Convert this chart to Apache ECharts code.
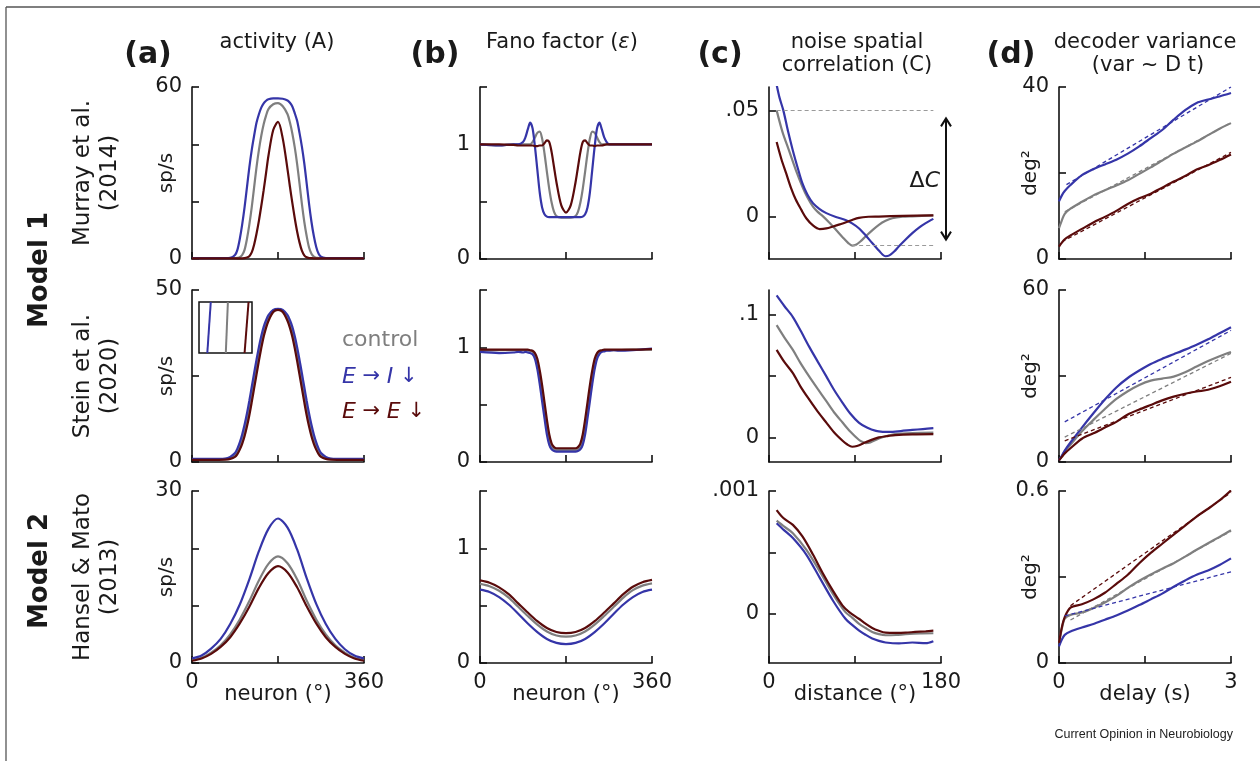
<!DOCTYPE html>
<html>
<head>
<meta charset="utf-8">
<script src="https://cdn.jsdelivr.net/npm/echarts@6.0.0/dist/echarts.min.js"></script>
<style>
  html, body { margin: 0; padding: 0; background: #ffffff; }
  #chart { width: 1260px; height: 761px; }
</style>
</head>
<body>
<div id="chart"></div>
<script>
// ---------------- data ----------------
// preferred-angle axis (degrees) shared by the ring-model panels
const NEURON = [0,40,70,80,90,95,100,105,110,115,120,125,130,135,140,145,150,155,160,170,180,
                190,200,205,210,215,220,225,230,235,240,245,250,255,260,265,270,280,290,320,360];
const NEURON_COARSE = [0,20,40,60,80,100,120,140,160,180,200,220,240,260,280,300,320,340,360];
const DELAY = [0,0.05,0.1,0.2,0.4,0.6,0.8,1.0,1.2,1.4,1.6,1.8,2.0,2.2,2.4,2.6,2.8,3.0];

// (a) activity, sp/s
const A1_CTRL = [0.3,0.3,0.3,0.3,0.3,0.4,0.6,1.4,3.2,7,12,18,25,32,38,43,47,50,52.3,54,
                 54.4,53.3,50.5,47.6,43.8,39,33.2,26.4,19.2,13,8,4,1.8,0.8,0.45,0.35,0.3,0.3,0.3,0.3,0.3];
const A1_EI   = [0.3,0.3,0.3,0.4,1.4,3.2,7,12,18,25,32,38,43,47.5,50.5,52.8,54.3,55.2,55.7,56.0,
                 56.0,55.9,55.3,54.5,53.2,50.9,48.2,44,39.2,33.4,26.4,19.2,13,8,4.2,1.8,0.8,0.35,0.3,0.3,0.3];
const A1_EE   = [0.25,0.25,0.25,0.25,0.25,0.25,0.25,0.25,0.3,0.5,1.0,2.3,5,8.8,13.3,18.5,24,30,36,45,
                 47.8,42,31.2,25.2,19.6,14.3,9.6,5.8,2.9,1.3,0.6,0.35,0.3,0.25,0.25,0.25,0.25,0.25,0.25,0.25,0.25];

const A2_CTRL = [0.8,0.8,0.9,1.2,2,3,4.5,6.5,9,12,15.5,19.5,23.5,27.5,31.5,35,38,40.2,41.9,43.8,
                 44.3,43.8,41.9,40.2,38,35,31.5,27.5,23.5,19.5,15.5,12,9,6.5,4.5,3,2,1.2,0.9,0.8,0.8];
const A2_EI   = [0.9,0.9,1.0,1.5,2.6,3.9,5.7,8.0,10.8,14.1,17.8,21.8,25.8,29.7,33.4,36.6,39.3,41.2,42.7,44.2,
                 44.5,44.2,42.7,41.2,39.3,36.6,33.4,29.7,25.8,21.8,17.8,14.1,10.8,8.0,5.7,3.9,2.6,1.5,1.0,0.9,0.9];
const A2_EE   = [0.6,0.6,0.7,0.9,1.5,2.3,3.6,5.3,7.5,10.3,13.6,17.4,21.4,25.4,29.4,33.1,36.4,39.0,41.0,43.6,
                 44.2,43.6,41.0,39.0,36.4,33.1,29.4,25.4,21.4,17.4,13.6,10.3,7.5,5.3,3.6,2.3,1.5,0.9,0.7,0.6,0.6];

const A3_CTRL = [0.5,0.9,1.8,3.1,5.0,7.6,10.8,14.4,17.3,18.6,17.4,14.6,10.9,7.6,5.0,3.1,1.8,0.9,0.5];
const A3_EI   = [0.8,1.3,2.5,4.2,6.8,10.2,14.6,19.5,23.4,25.2,23.6,19.8,14.8,10.3,6.8,4.2,2.4,1.3,0.8];
const A3_EE   = [0.4,0.8,1.6,2.8,4.5,6.9,9.8,13.1,15.7,16.9,15.8,13.2,9.9,6.9,4.5,2.8,1.6,0.8,0.4];

// inset of panel (a), middle row: the three rising flanks magnified
const INSET_CTRL = [[0.506,0],[0.545,1]];
const INSET_EI   = [[0.157,0],[0.222,1]];
const INSET_EE   = [[0.860,0],[0.935,1]];

// (b) Fano factor
const B1_CTRL = [1.0,0.99,1.0,1.0,1.0,1.0,1.0,1.0,1.02,1.06,1.10,1.11,1.05,0.92,0.76,0.61,0.49,0.41,0.375,0.36,
                 0.36,0.36,0.375,0.41,0.49,0.61,0.76,0.92,1.05,1.11,1.10,1.06,1.02,1.0,1.0,1.0,1.0,1.0,1.0,1.0,1.0];
const B1_EI   = [1.0,0.99,1.0,1.0,1.02,1.06,1.13,1.19,1.14,0.98,0.78,0.58,0.45,0.39,0.37,0.365,0.365,0.365,0.365,0.365,
                 0.365,0.365,0.365,0.365,0.365,0.37,0.39,0.45,0.58,0.78,0.98,1.14,1.19,1.13,1.06,1.02,1.0,1.0,1.0,1.0,1.0];
const B1_EE   = [1.0,1.0,0.995,0.99,0.99,0.99,0.99,0.99,0.99,0.985,0.985,0.99,0.99,1.01,1.035,1.02,0.93,0.8,0.67,0.47,
                 0.405,0.47,0.67,0.8,0.93,1.02,1.035,1.01,0.99,0.99,0.985,0.99,0.99,0.99,0.995,1.0,1.0,1.0,1.0,1.0,1.0];

const B2_CTRL = [0.97,0.975,0.975,0.975,0.975,0.975,0.97,0.97,0.96,0.93,0.86,0.74,0.6,0.45,0.3,0.19,0.13,0.11,0.105,0.105,
                 0.105,0.105,0.105,0.11,0.13,0.19,0.3,0.45,0.6,0.74,0.86,0.93,0.96,0.97,0.97,0.975,0.975,0.975,0.975,0.98,0.98];
const B2_EI   = [0.96,0.95,0.955,0.96,0.955,0.96,0.955,0.95,0.94,0.9,0.81,0.68,0.53,0.38,0.24,0.15,0.11,0.095,0.09,0.09,
                 0.09,0.09,0.09,0.095,0.11,0.15,0.24,0.38,0.53,0.68,0.81,0.9,0.94,0.96,0.965,0.97,0.97,0.975,0.97,0.975,0.99];
const B2_EE   = [0.98,0.98,0.98,0.98,0.98,0.98,0.98,0.975,0.97,0.95,0.9,0.8,0.67,0.52,0.37,0.24,0.16,0.13,0.12,0.12,
                 0.12,0.12,0.12,0.13,0.16,0.24,0.37,0.52,0.67,0.8,0.9,0.95,0.97,0.975,0.98,0.98,0.98,0.98,0.98,0.98,0.985];

const B3_CTRL = [0.69,0.67,0.63,0.57,0.49,0.41,0.335,0.275,0.24,0.23,0.24,0.275,0.335,0.41,0.49,0.57,0.635,0.675,0.695];
const B3_EI   = [0.64,0.62,0.575,0.51,0.43,0.345,0.27,0.21,0.175,0.165,0.175,0.21,0.27,0.345,0.43,0.51,0.575,0.62,0.64];
const B3_EE   = [0.72,0.70,0.66,0.60,0.52,0.44,0.365,0.305,0.27,0.26,0.27,0.305,0.365,0.44,0.52,0.60,0.665,0.705,0.725];

// (c) noise correlation vs distance, [distance, C]
const C1_CTRL = [[8,0.050],[14,0.040],[21,0.031],[28,0.022],[35,0.014],[40,0.0092],[46,0.0047],[51,0.0022],[56,0.0003],
                 [63,-0.0028],[70,-0.0062],[77,-0.0097],[83,-0.0125],[87,-0.0137],[91,-0.0133],[96,-0.0116],[101,-0.0094],
                 [108,-0.0065],[115,-0.0039],[122,-0.0020],[129,-0.0008],[140,-0.0001],[150,0.0001],[160,0.0003],[172,0.0005]];
const C1_EI   = [[8,0.062],[11,0.056],[15,0.050],[20,0.040],[25,0.031],[30,0.023],[35,0.0156],[40,0.0105],[46,0.0063],
                 [53,0.0035],[60,0.0016],[70,-0.0002],[80,-0.0016],[87,-0.0032],[94,-0.0055],[101,-0.0088],[108,-0.0125],
                 [115,-0.0160],[119,-0.0180],[122,-0.0187],[126,-0.0183],[131,-0.0165],[136,-0.0140],[143,-0.0108],
                 [150,-0.0078],[157,-0.0052],[164,-0.0031],[172,-0.0011]];
const C1_EE   = [[8,0.0351],[13,0.0270],[18,0.0203],[23,0.0135],[28,0.0080],[34,0.0030],[39,-0.0008],[46,-0.0042],
                 [53,-0.0059],[60,-0.0056],[67,-0.0047],[74,-0.0037],[80,-0.0028],[87,-0.0016],[94,-0.0006],
                 [104,-0.0001],[115,0.0],[140,0.0003],[172,0.0005]];

const C2_CTRL = [[8,0.0914],[16,0.0815],[25,0.0713],[33,0.0605],[42,0.0497],[51,0.0395],[60,0.0295],[68,0.0205],
                 [77,0.0121],[85,0.0048],[94,-0.0019],[98,-0.0038],[101,-0.0046],[106,-0.0040],[115,-0.0008],
                 [123,0.0012],[132,0.0027],[150,0.0036],[172,0.0040]];
const C2_EI   = [[8,0.1156],[16,0.107],[25,0.098],[33,0.087],[42,0.0739],[51,0.0617],[60,0.0497],[68,0.0388],
                 [77,0.0282],[85,0.0195],[94,0.0121],[103,0.0078],[112,0.0053],[119,0.0046],[126,0.0045],
                 [138,0.0052],[150,0.0061],[161,0.0068],[172,0.0075]];
const C2_EE   = [[8,0.0713],[16,0.0615],[25,0.0524],[33,0.0414],[42,0.0309],[51,0.0210],[60,0.0121],[68,0.0042],
                 [77,-0.0027],[82,-0.0058],[87,-0.0076],[92,-0.0070],[101,-0.0040],[108,-0.0018],[115,0.0],
                 [125,0.0012],[132,0.0019],[150,0.0025],[172,0.0027]];

const C3_CTRL = [[8,0.000759],[16,0.00071],[25,0.000657],[39,0.000523],[53,0.000348],[67,0.000161],[80,0.000014],
                 [87,-0.00003],[94,-0.00008],[101,-0.000115],[108,-0.000147],[115,-0.000165],[122,-0.000174],
                 [133,-0.000172],[143,-0.000166],[158,-0.00016],[172,-0.000158]];
const C3_EI   = [[8,0.000738],[16,0.00068],[25,0.000617],[39,0.000483],[53,0.000295],[67,0.000107],[80,-0.00004],
                 [87,-0.00009],[94,-0.000134],[101,-0.00017],[108,-0.000201],[115,-0.00022],[122,-0.000233],
                 [136,-0.000241],[150,-0.000233],[164,-0.000239],[172,-0.000223]];
const C3_EE   = [[8,0.000845],[15,0.00078],[25,0.000724],[35,0.00063],[46,0.000483],[56,0.000335],[67,0.000187],
                 [77,0.000067],[84,0.000014],[94,-0.00004],[101,-0.00008],[108,-0.000115],[115,-0.000138],
                 [122,-0.000153],[133,-0.000155],[143,-0.000153],[153,-0.000147],[164,-0.000142],[172,-0.000137]];

// (d) decoder variance vs delay, deg^2, with linear diffusion fits
const D1_CTRL = [7.2,9.0,10.5,11.7,13.3,14.8,16.0,17.1,18.3,19.8,21.3,22.9,24.5,25.9,27.3,28.8,30.3,31.6];
const D1_EI   = [13.4,14.8,15.8,17.2,19.5,20.9,22.0,23.1,24.5,26.2,28.1,30.0,32.4,34.6,36.3,37.1,37.8,38.6];
const D1_EE   = [2.9,3.8,4.6,5.5,7.0,8.5,9.8,11.2,12.8,14.1,15.2,16.6,18.0,19.3,20.8,21.8,23.0,24.3];
const D1_FIT_CTRL = [[0.1,11.0],[3,31.7]];
const D1_FIT_EI   = [[0.13,17.3],[3,40.0]];
const D1_FIT_EE   = [[0.05,4.0],[3,24.8]];

const D2_CTRL = [0.6,2.0,3.7,6.0,10.7,14.7,18.5,22.0,24.7,26.9,28.4,29.1,29.8,31.3,33.3,35.2,36.9,38.4];
const D2_EI   = [0.6,2.2,4.0,6.8,12.0,17.0,21.8,26.0,29.3,31.9,34.2,36.0,37.6,39.2,40.9,42.8,44.9,47.0];
const D2_EE   = [0.6,1.8,3.0,4.8,8.1,10.0,12.0,14.0,16.6,18.3,19.9,21.5,22.8,23.8,24.6,25.2,26.4,28.0];
const D2_FIT_CTRL = [[0.1,8.7],[3,37.9]];
const D2_FIT_EI   = [[0.1,14.0],[3,45.9]];
const D2_FIT_EE   = [[0.1,7.4],[3,29.5]];

const D3_CTRL = [0.07,0.12,0.155,0.168,0.176,0.192,0.211,0.234,0.262,0.287,0.309,0.329,0.348,0.371,0.395,0.418,0.44,0.463];
const D3_EI   = [0.058,0.082,0.098,0.11,0.124,0.136,0.151,0.166,0.183,0.202,0.222,0.242,0.266,0.288,0.308,0.323,0.342,0.365];
const D3_EE   = [0.07,0.125,0.16,0.193,0.205,0.222,0.245,0.276,0.308,0.348,0.384,0.416,0.448,0.479,0.511,0.538,0.567,0.602];
const D3_FIT_CTRL = [[0.2,0.15],[3,0.46]];
const D3_FIT_EI   = [[0.1,0.164],[3,0.318]];
const D3_FIT_EE   = [[0.2,0.2],[3,0.595]];

// axis extents and ticks
const X_TICKS = [[0,180,360],[0,180,360],[0,90,180],[0,1.5,3]];
const X_NAMES = ['neuron (°)','neuron (°)','distance (°)','delay (s)'];
const Y_SPEC = [
  // [min, max, ticks, labelled ticks]
  [[0,60,[0,20,40,60],[0,60]], [0,1.5,[0,0.5,1,1.5],[0,1]], [-0.02,0.061,[0,0.05],[0,0.05]], [0,40,[0,20,40],[0,40]]],
  [[0,50,[0,25,50],[0,50]],    [0,1.5,[0,0.5,1,1.5],[0,1]], [-0.02,0.12,[0,0.05,0.1],[0,0.1]], [0,60,[0,30,60],[0,60]]],
  [[0,30,[0,10,20,30],[0,30]], [0,1.5,[0,0.5,1,1.5],[0,1]], [-0.0004,0.001,[0,0.0005,0.001],[0,0.001]], [0,0.6,[0,0.3,0.6],[0,0.6]]]
];

// ---------------- style / layout ----------------
const FONT = 'DejaVu Sans';
const INK = '#1a1a1a';
const C_CTRL = '#7f7f7f', C_EI = '#3535a8', C_EE = '#5a0b0b';
const COL_LEFT = [192, 480, 769, 1059];
const ROW_TOP = [87, 290, 491];
const PW = 172, PH = 172;

const pairs = (xs, ys) => xs.map((x, i) => [x, ys[i]]);

const panelLines = [
  [ [pairs(NEURON,A1_CTRL), pairs(NEURON,A1_EI), pairs(NEURON,A1_EE)],
    [pairs(NEURON,B1_CTRL), pairs(NEURON,B1_EI), pairs(NEURON,B1_EE)],
    [C1_CTRL, C1_EI, C1_EE],
    [pairs(DELAY,D1_CTRL), pairs(DELAY,D1_EI), pairs(DELAY,D1_EE)] ],
  [ [pairs(NEURON,A2_CTRL), pairs(NEURON,A2_EI), pairs(NEURON,A2_EE)],
    [pairs(NEURON,B2_CTRL), pairs(NEURON,B2_EI), pairs(NEURON,B2_EE)],
    [C2_CTRL, C2_EI, C2_EE],
    [pairs(DELAY,D2_CTRL), pairs(DELAY,D2_EI), pairs(DELAY,D2_EE)] ],
  [ [pairs(NEURON_COARSE,A3_CTRL), pairs(NEURON_COARSE,A3_EI), pairs(NEURON_COARSE,A3_EE)],
    [pairs(NEURON_COARSE,B3_CTRL), pairs(NEURON_COARSE,B3_EI), pairs(NEURON_COARSE,B3_EE)],
    [C3_CTRL, C3_EI, C3_EE],
    [pairs(DELAY,D3_CTRL), pairs(DELAY,D3_EI), pairs(DELAY,D3_EE)] ]
];
const fits = [
  [D1_FIT_CTRL, D1_FIT_EI, D1_FIT_EE],
  [D2_FIT_CTRL, D2_FIT_EI, D2_FIT_EE],
  [D3_FIT_CTRL, D3_FIT_EI, D3_FIT_EE]
];
const COLORS = [C_CTRL, C_EI, C_EE];

const fmtY = (col) => (v) => {
  if (v === 0) return '0';
  const s = String(v);
  return col === 2 ? s.replace(/^0\./, '.') : s;
};

const grids = [], xAxes = [], yAxes = [], series = [];
let idx = 0;
const gridIndexOf = {};
for (let r = 0; r < 3; r++) {
  for (let c = 0; c < 4; c++) {
    const i = idx++;
    gridIndexOf[r + '_' + c] = i;
    grids.push({ left: COL_LEFT[c], top: ROW_TOP[r], width: PW, height: PH, show: false });
    const xt = X_TICKS[c];
    const lastRow = r === 2;
    xAxes.push({
      type: 'value', gridIndex: i, min: xt[0], max: xt[2],
      axisLine: { show: true, onZero: false, lineStyle: { color: '#111', width: 1.6 } },
      axisTick: { show: true, inside: true, length: 7, customValues: xt, lineStyle: { color: '#111', width: 1.6 } },
      axisLabel: { show: lastRow, customValues: [xt[0], xt[2]], fontSize: 21, color: INK, fontFamily: FONT, margin: 9 },
      splitLine: { show: false },
      name: lastRow ? X_NAMES[c] : '', nameLocation: 'middle', nameGap: 21, nameMoveOverlap: false,
      nameTextStyle: { fontSize: 21, color: INK, fontFamily: FONT }
    });
    const ys = Y_SPEC[r][c];
    yAxes.push({
      type: 'value', gridIndex: i, min: ys[0], max: ys[1],
      axisLine: { show: true, onZero: false, lineStyle: { color: '#111', width: 1.6 } },
      axisTick: { show: true, inside: true, length: 7, customValues: ys[2], lineStyle: { color: '#111', width: 1.6 } },
      axisLabel: { show: true, customValues: ys[3], formatter: fmtY(c), fontSize: 21, color: INK, fontFamily: FONT, margin: 10 },
      splitLine: { show: false },
      name: c === 0 ? 'sp/s' : (c === 3 ? 'deg²' : ''), nameLocation: 'middle',
      nameGap: c === 0 ? 15 : 18, nameMoveOverlap: false,
      nameTextStyle: { fontSize: 20, color: INK, fontFamily: FONT }
    });
    panelLines[r][c].forEach((data, k) => {
      const s = {
        type: 'line', xAxisIndex: i, yAxisIndex: i, data: data,
        symbol: 'none', showSymbol: false, smooth: 0.3, silent: true, clip: true,
        lineStyle: { color: COLORS[k], width: 2.2 }, z: 3 + k
      };
      if (r === 0 && c === 2 && k === 0) {
        // reference levels for the correlation drop: value at shortest distance and the dip
        const first = C1_CTRL[0];
        const last = C1_CTRL[C1_CTRL.length - 1];
        const dip = C1_CTRL.reduce((a, b) => (b[1] < a[1] ? b : a));
        s.markLine = {
          silent: true, symbol: ['none', 'none'], label: { show: false },
          lineStyle: { color: '#9a9a9a', type: [4, 3], width: 1.2 },
          data: [
            [{ coord: [first[0], first[1]] }, { coord: [last[0], first[1]] }],
            [{ coord: [dip[0], dip[1]] }, { coord: [last[0], dip[1]] }]
          ]
        };
      }
      series.push(s);
    });
    if (c === 3) {
      fits[r].forEach((data, k) => {
        series.push({
          type: 'line', xAxisIndex: i, yAxisIndex: i, data: data,
          symbol: 'none', showSymbol: false, silent: true, clip: true,
          lineStyle: { color: COLORS[k], width: 1.3, type: [4, 3] }, z: 6
        });
      });
    }
  }
}

// inset panel inside (a), middle row
const insetIdx = grids.length;
grids.push({ left: 199, top: 302, width: 53, height: 51, show: true, borderColor: '#111', borderWidth: 1.5, backgroundColor: '#fff', z: 5 });
xAxes.push({ type: 'value', gridIndex: insetIdx, min: 0, max: 1, show: false });
yAxes.push({ type: 'value', gridIndex: insetIdx, min: 0, max: 1, show: false });
[INSET_CTRL, INSET_EI, INSET_EE].forEach((data, k) => {
  series.push({ type: 'line', xAxisIndex: insetIdx, yAxisIndex: insetIdx, data: data, symbol: 'none',
    silent: true, lineStyle: { color: COLORS[k], width: 2 }, z: 6 });
});

const chart = echarts.init(document.getElementById('chart'), null, { renderer: 'canvas' });
chart.setOption({
  animation: false,
  backgroundColor: '#ffffff',
  grid: grids, xAxis: xAxes, yAxis: yAxes, series: series
});

// ---------------- text and annotations ----------------
const txt = (x, y, text, opts) => ({
  type: 'text', x: x, y: y, silent: true, rotation: (opts && opts.rotation) || 0, z: 10,
  style: Object.assign({ text: text, fill: INK, font: '21px "DejaVu Sans"', align: 'center', verticalAlign: 'middle' },
    (opts && opts.style) || {})
});
const ROT = Math.PI / 2;
const bold = (size) => 'bold ' + size + 'px "DejaVu Sans"';

const g = [];
// frame
g.push({ type: 'line', silent: true, shape: { x1: 6, y1: 7, x2: 1260, y2: 7 }, style: { stroke: '#555', lineWidth: 1.3 } });
g.push({ type: 'line', silent: true, shape: { x1: 6, y1: 7, x2: 6, y2: 761 }, style: { stroke: '#555', lineWidth: 1.3 } });

// panel letters
[['(a)', 148], ['(b)', 435], ['(c)', 720], ['(d)', 1011]].forEach(([t, x]) => g.push(txt(x, 55, t, { style: { font: bold(30) } })));

// column titles
g.push(txt(277, 43, 'activity (A)'));
g.push({ type: 'text', x: 562, y: 43, silent: true, style: {
  text: '{n|Fano factor (}{i|ε}{n|)}', align: 'center', verticalAlign: 'middle',
  rich: { n: { font: '21px "DejaVu Sans"', fill: INK }, i: { font: 'italic 21px "DejaVu Sans"', fill: INK } } } });
g.push(txt(857, 43, 'noise spatial'));
g.push(txt(857, 66, 'correlation (C)'));
g.push(txt(1145, 43, 'decoder variance'));
g.push(txt(1148, 66, '(var ~ D t)'));

// row labels
g.push(txt(40, 270, 'Model 1', { rotation: ROT, style: { font: bold(26) } }));
g.push(txt(40, 571, 'Model 2', { rotation: ROT, style: { font: bold(26) } }));
const rowLab = [['Murray et al.', '(2014)', 173], ['Stein et al.', '(2020)', 376], ['Hansel & Mato', '(2013)', 577]];
rowLab.forEach(([a, b, y]) => {
  g.push(txt(83, y, a, { rotation: ROT, style: { font: '23px "DejaVu Sans"' } }));
  g.push(txt(110, y, b, { rotation: ROT, style: { font: '23px "DejaVu Sans"' } }));
});

// legend
g.push({ type: 'text', x: 342, y: 340, silent: true, style: { text: 'control', font: '22px "DejaVu Sans"', fill: C_CTRL, align: 'left', verticalAlign: 'middle' } });
const legRich = (col) => ({ i: { font: 'italic 22px "DejaVu Sans"', fill: col }, n: { font: '21px "DejaVu Sans"', fill: col } });
g.push({ type: 'text', x: 342, y: 377, silent: true, style: { text: '{i|E}{n| → }{i|I}{n| ↓}', align: 'left', verticalAlign: 'middle', rich: legRich(C_EI) } });
g.push({ type: 'text', x: 342, y: 412, silent: true, style: { text: '{i|E}{n| → }{i|E}{n| ↓}', align: 'left', verticalAlign: 'middle', rich: legRich(C_EE) } });

// credit line
g.push({ type: 'text', x: 1233, y: 735, silent: true, style: { text: 'Current Opinion in Neurobiology', font: '12.5px "Liberation Sans"', fill: '#222', align: 'right', verticalAlign: 'middle' } });

// ΔC double arrow, placed from the two reference levels of panel (c), top row
const cIdx = gridIndexOf['0_2'];
const cFirst = C1_CTRL[0];
const cDip = C1_CTRL.reduce((a, b) => (b[1] < a[1] ? b : a));
const pTop = chart.convertToPixel({ gridIndex: cIdx }, [180, cFirst[1]]);
const pBot = chart.convertToPixel({ gridIndex: cIdx }, [180, cDip[1]]);
const ax = pTop[0] + 5;
const yTop = pTop[1] + 8, yBot = pBot[1] - 6;
const arrowStyle = { stroke: '#111', lineWidth: 2, fill: 'none' };
g.push({ type: 'line', silent: true, z: 10, shape: { x1: ax, y1: yTop, x2: ax, y2: yBot }, style: arrowStyle });
g.push({ type: 'polyline', silent: true, z: 10, shape: { points: [[ax - 5, yTop + 8], [ax, yTop], [ax + 5, yTop + 8]] }, style: arrowStyle });
g.push({ type: 'polyline', silent: true, z: 10, shape: { points: [[ax - 5, yBot - 8], [ax, yBot], [ax + 5, yBot - 8]] }, style: arrowStyle });
g.push({ type: 'text', x: pTop[0] - 1, y: (pTop[1] + pBot[1]) / 2 + 3, silent: true, z: 10, style: {
  text: '{n|Δ}{i|C}', align: 'right', verticalAlign: 'middle',
  rich: { n: { font: '22px "DejaVu Sans"', fill: INK }, i: { font: 'italic 22px "DejaVu Sans"', fill: INK } } } });

chart.setOption({ graphic: { elements: g } });
</script>
</body>
</html>
